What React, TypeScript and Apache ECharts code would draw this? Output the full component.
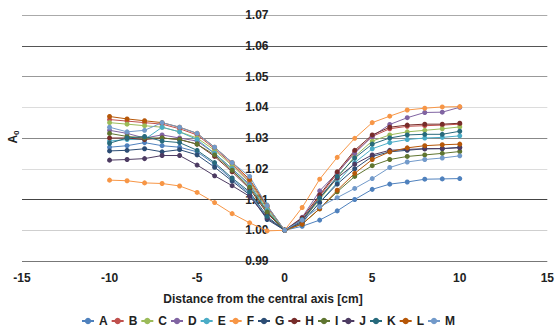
import React, { useEffect, useRef } from "react";
import * as echarts from "echarts";

const xs = [-10, -9, -8, -7, -6, -5, -4, -3, -2, -1, 0, 1, 2, 3, 4, 5, 6, 7, 8, 9, 10];
const seriesNames = ["A", "B", "C", "D", "E", "F", "G", "H", "I", "J", "K", "L", "M"];
const colors = ["#4F81BD", "#C0504D", "#9BBB59", "#8064A2", "#4BACC6", "#F79646", "#2C4D75", "#772C2A", "#5F7530", "#4D3B62", "#276A7C", "#B65708", "#729ACA"];

const A = [1.027, 1.0275, 1.0285, 1.0275, 1.027, 1.0255, 1.0215, 1.0165, 1.012, 1.004, 1.0, 1.0013, 1.0033, 1.0063, 1.01, 1.0133, 1.015, 1.0157, 1.0166, 1.0167, 1.0168];
const B = [1.036, 1.0355, 1.035, 1.0345, 1.033, 1.031, 1.0265, 1.0215, 1.016, 1.0075, 1.0, 1.0035, 1.011, 1.0185, 1.0255, 1.0305, 1.033, 1.0338, 1.034, 1.0342, 1.0345];
const C = [1.035, 1.0345, 1.034, 1.0335, 1.032, 1.03, 1.026, 1.021, 1.0155, 1.007, 1.0, 1.003, 1.01, 1.017, 1.024, 1.029, 1.031, 1.032, 1.0325, 1.033, 1.0336];
const D = [1.0325, 1.0315, 1.03, 1.031, 1.03, 1.029, 1.025, 1.02, 1.015, 1.006, 1.0, 1.0042, 1.0128, 1.0187, 1.025, 1.0305, 1.0344, 1.0366, 1.0383, 1.0384, 1.04];
const E = [1.029, 1.0295, 1.0295, 1.0335, 1.032, 1.0295, 1.025, 1.02, 1.0145, 1.0065, 1.0, 1.0025, 1.009, 1.0155, 1.022, 1.0265, 1.0285, 1.0295, 1.03, 1.0302, 1.0307];
const F = [1.0163, 1.0161, 1.0154, 1.0152, 1.0144, 1.0123, 1.009, 1.0054, 1.0024, 0.9998, 1.0, 1.0074, 1.0166, 1.0237, 1.0299, 1.035, 1.0371, 1.0391, 1.0397, 1.0401, 1.0402];
const G = [1.0258, 1.026, 1.0265, 1.0255, 1.0262, 1.0245, 1.0205, 1.016, 1.0115, 1.0035, 1.0, 1.0025, 1.009, 1.015, 1.02, 1.024, 1.0255, 1.026, 1.0265, 1.0265, 1.027];
const H = [1.03, 1.03, 1.0295, 1.03, 1.0295, 1.028, 1.024, 1.019, 1.0135, 1.0055, 1.0, 1.004, 1.0115, 1.019, 1.026, 1.031, 1.0335, 1.0342, 1.0345, 1.0345, 1.0348];
const I = [1.0315, 1.0305, 1.03, 1.03, 1.0295, 1.028, 1.0245, 1.0195, 1.014, 1.006, 1.0, 1.002, 1.007, 1.0125, 1.0175, 1.021, 1.023, 1.024, 1.0245, 1.025, 1.0256];
const J = [1.0228, 1.023, 1.0233, 1.0243, 1.0243, 1.0212, 1.0177, 1.0145, 1.011, 1.004, 1.0, 1.003, 1.0105, 1.017, 1.0215, 1.0245, 1.026, 1.0263, 1.0265, 1.0266, 1.0268];
const K = [1.0283, 1.03, 1.0305, 1.029, 1.0285, 1.026, 1.022, 1.017, 1.0125, 1.0045, 1.0, 1.0035, 1.0105, 1.0175, 1.0235, 1.028, 1.03, 1.031, 1.0312, 1.0312, 1.0322];
const L = [1.037, 1.0362, 1.0356, 1.035, 1.0335, 1.0315, 1.027, 1.022, 1.0165, 1.008, 1.0, 1.002, 1.007, 1.013, 1.0185, 1.023, 1.0255, 1.0268, 1.0275, 1.0278, 1.028];
const M = [1.0335, 1.032, 1.0325, 1.035, 1.0335, 1.0315, 1.027, 1.022, 1.0175, 1.008, 1.0, 1.0033, 1.0076, 1.0106, 1.0136, 1.0168, 1.0204, 1.0222, 1.023, 1.0235, 1.0242];

const seriesValues = [A, B, C, D, E, F, G, H, I, J, K, L, M];
const gridColors = ["#777", "#cfcfcf", "#444", "#dcdcdc", "#888", "#dcdcdc", "#999", "#555", "#aaa"];
const xTitle = "Distance from the central axis [cm]";

export default function App() {
  const ref = useRef<HTMLDivElement>(null);
  useEffect(() => {
    if (!ref.current) return;
    const chart = echarts.init(ref.current, null, { renderer: "svg" });
    const font = "Liberation Sans, Arial, sans-serif";
    chart.setOption({
      animation: false,
      color: colors,
      textStyle: { fontFamily: font },
      grid: { left: 22, right: 8, top: 15, bottom: 69, containLabel: false },
      legend: {
        data: seriesNames,
        top: 310,
        left: 76,
        itemWidth: 12,
        itemHeight: 8,
        itemGap: 3,
        textStyle: { fontSize: 12, fontWeight: "bold", color: "#222", fontFamily: font },
      },
      graphic: [
        {
          type: "group",
          x: 13,
          y: 137,
          rotation: Math.PI / 2,
          children: [
            {
              type: "text",
              x: 0,
              y: 0,
              style: {
                text: "{a|A}{s|0}",
                align: "center",
                verticalAlign: "middle",
                rich: {
                  a: { fontSize: 12, fontWeight: "bold", fill: "#222", fontFamily: font },
                  s: { fontSize: 8, fontWeight: "bold", fill: "#222", fontFamily: font, padding: [6, 0, 0, 0] },
                },
              },
            },
          ],
        },
        {
          type: "text",
          x: 263,
          y: 299,
          style: {
            text: xTitle,
            align: "center",
            verticalAlign: "middle",
            fontSize: 12,
            fontWeight: "bold",
            fill: "#222",
            fontFamily: font,
          },
        },
      ],
      xAxis: {
        type: "value",
        min: -15,
        max: 15,
        interval: 5,
        axisLine: { show: false },
        axisTick: { show: false },
        splitLine: { show: false },
        axisLabel: { fontSize: 12, fontWeight: "bold", color: "#222", margin: 11 },
      },
      yAxis: {
        type: "value",
        position: "left",
        offset: -263.5,
        min: 0.99,
        max: 1.07,
        interval: 0.01,
        axisLine: { show: false },
        axisTick: { show: false },
        axisLabel: {
          fontSize: 12,
          fontWeight: "bold",
          color: "#222",
          margin: 17,
          formatter: (v: number) => v.toFixed(2),
        },
        splitLine: { show: true, lineStyle: { color: gridColors, width: 1 } },
      },
      series: seriesNames.map((n, i) => ({
        name: n,
        type: "line",
        symbol: "circle",
        symbolSize: 5,
        lineStyle: { width: 1 },
        data: xs.map((x, j) => [x, seriesValues[i][j]]),
      })),
    });
    return () => chart.dispose();
  }, []);
  return <div ref={ref} style={{ width: 557, height: 330, position: "absolute", left: 0, top: 0 }} />;
}
